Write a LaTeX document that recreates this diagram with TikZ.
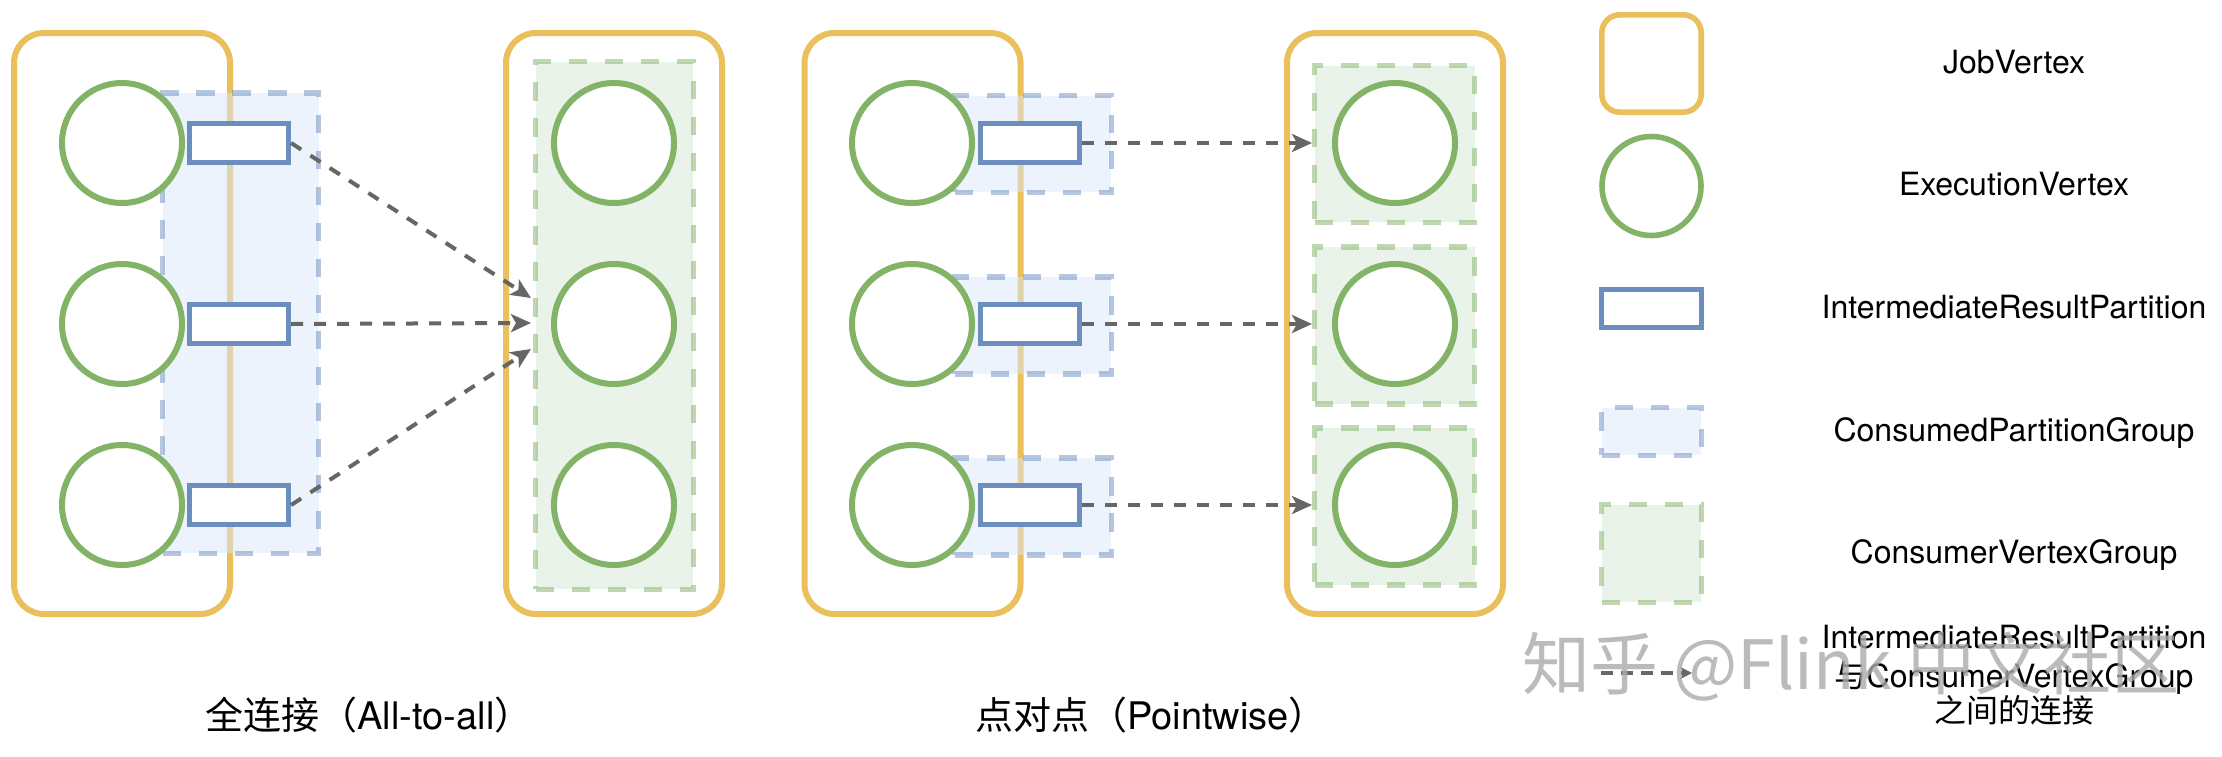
\documentclass[tikz,border=0pt]{standalone}
\usepackage{fontspec}
\setmainfont{TeX Gyre Heros}
\newfontfamily\cjk{Noto Sans CJK SC}
\usetikzlibrary{arrows.meta}
\definecolor{jvyel}{RGB}{234,192,92}
\definecolor{evgreen}{RGB}{130,179,102}
\definecolor{irpblue}{RGB}{108,142,191}
\definecolor{cpgfill}{RGB}{218,232,252}
\definecolor{cvgfill}{RGB}{213,232,212}
\definecolor{arrowgray}{RGB}{102,102,102}
\tikzset{
  jv/.style={draw=jvyel, line width=3pt, rounded corners=15pt, minimum width=108pt, minimum height=290.5pt, inner sep=0pt},
  ev/.style={circle, draw=evgreen, fill=white, line width=3pt, minimum size=60pt, inner sep=0pt},
  irp/.style={draw=irpblue, fill=white, line width=2.6pt, minimum width=49.5pt, minimum height=19.5pt, inner sep=0pt},
  cpg/.style={draw=irpblue, draw opacity=0.5, fill=cpgfill, fill opacity=0.5, line width=2.7pt, dash pattern=on 9.25pt off 8.75pt, inner sep=0pt},
  cvg/.style={draw=evgreen, draw opacity=0.5, fill=cvgfill, fill opacity=0.5, line width=2.8pt, dash pattern=on 9.25pt off 8.75pt, inner sep=0pt},
  flow/.style={draw=arrowgray, line width=2pt, dash pattern=on 6pt off 5.5pt, -{Stealth[length=10pt,width=9pt,inset=2.5pt]}},
  lbl/.style={font=\fontsize{16}{19.25}\selectfont, anchor=base, inner sep=0pt},
  caption/.style={font=\fontsize{19}{23}\selectfont, anchor=base, inner sep=0pt},
  wmark/.style={font={\cjk\fontsize{34}{40}\selectfont}, text=black!33, text opacity=0.8, inner sep=0pt}
}
\begin{document}
\begin{tikzpicture}[x=0.5pt,y=-0.5pt]
\fill[white] (0,0) rectangle (2222,756);
\useasboundingbox (0,0) rectangle (2222,756);

% ---------- All-to-all ----------
\node[jv] (jv1) at (122,323.5) {};
\node[jv] (jv2) at (614,323.5) {};
\node[cpg, minimum width=78pt, minimum height=230.2pt] (cpgA) at (240.5,323) {};
\node[cvg, minimum width=78.9pt, minimum height=263.9pt] (cvgA) at (614.5,325.5) {};
\node[ev] (a1) at (122,143) {};
\node[ev] (a2) at (122,324) {};
\node[ev] (a3) at (122,505) {};
\node[irp] (pa1) at (239,143) {};
\node[irp] (pa2) at (239,324) {};
\node[irp] (pa3) at (239,505) {};
\node[ev] (b1) at (614,143) {};
\node[ev] (b2) at (614,324) {};
\node[ev] (b3) at (614,505) {};
\coordinate (tA1) at (531,298);
\coordinate (tA2) at (531,323);
\coordinate (tA3) at (531,349);
\draw[flow] (pa1.east) -- (tA1);
\draw[flow] (pa2.east) -- (tA2);
\draw[flow] (pa3.east) -- (tA3);
\node[caption] (capA) at (369,729) {{\cjk 全连接（}All-to-all{\cjk ）}};

% ---------- Pointwise ----------
\node[jv] (jv3) at (912.5,323.5) {};
\node[jv] (jv4) at (1395,323.5) {};
\node[cpg, minimum width=78.4pt, minimum height=48.4pt] (cpgB1) at (1033,144) {};
\node[cpg, minimum width=78.4pt, minimum height=48.4pt] (cpgB2) at (1033,325.5) {};
\node[cpg, minimum width=78.4pt, minimum height=48.4pt] (cpgB3) at (1033,506.5) {};
\node[cvg, minimum width=80pt, minimum height=78.4pt] (cvgB1) at (1394.5,144) {};
\node[cvg, minimum width=80pt, minimum height=78.4pt] (cvgB2) at (1394.5,325.5) {};
\node[cvg, minimum width=80pt, minimum height=78.4pt] (cvgB3) at (1394.5,506.5) {};
\node[ev] (c1) at (912,143) {};
\node[ev] (c2) at (912,324) {};
\node[ev] (c3) at (912,505) {};
\node[irp] (pc1) at (1030,143) {};
\node[irp] (pc2) at (1030,324) {};
\node[irp] (pc3) at (1030,505) {};
\node[ev] (d1) at (1395,143) {};
\node[ev] (d2) at (1395,324) {};
\node[ev] (d3) at (1395,505) {};
\coordinate (tB1) at (1312,143);
\coordinate (tB2) at (1312,324);
\coordinate (tB3) at (1312,505);
\draw[flow] (pc1.east) -- (tB1);
\draw[flow] (pc2.east) -- (tB2);
\draw[flow] (pc3.east) -- (tB3);
\node[caption] (capB) at (1151,729) {{\cjk 点对点（}Pointwise{\cjk ）}};

% ---------- Legend ----------
\node[jv, minimum width=49.7pt, minimum height=48.7pt, rounded corners=9pt, line width=2.8pt] (ljv) at (1651.5,63.5) {};
\node[ev, minimum size=49.5pt, line width=2.8pt] (lev) at (1651.5,186) {};
\node[irp, minimum width=49.9pt, minimum height=18.9pt] (lirp) at (1651.5,308.5) {};
\node[cpg, minimum width=49.9pt, minimum height=23.9pt] (lcpg) at (1651.5,431.5) {};
\node[cvg, minimum width=49.9pt, minimum height=48.9pt] (lcvg) at (1651.5,553.5) {};
\coordinate (la0) at (1601,673);
\coordinate (la1) at (1692,673);
\draw[flow, line width=1.7pt, dash pattern=on 6pt off 4pt, -{Stealth[length=6pt,width=6pt,inset=2pt]}] (la0) -- (la1);

\node[lbl] (t1) at (2014,73.5) {JobVertex};
\node[lbl] (t2) at (2014,195) {ExecutionVertex};
\node[lbl] (t3) at (2014,318.5) {IntermediateResultPartition};
\node[lbl] (t4) at (2014,441) {ConsumedPartitionGroup};
\node[lbl] (t5) at (2014,563.5) {ConsumerVertexGroup};
\node[lbl] (t6a) at (2014,648) {IntermediateResultPartition};
\node[lbl] (t6b) at (2014,687) {{\cjk 与}ConsumerVertexGroup};
\node[lbl] (t6c) at (2014,722) {{\cjk 之间的连接}};

% ---------- watermark ----------
\node[wmark] (wm) at (1851,667) {知乎 @Flink 中文社区};
\end{tikzpicture}
\end{document}
